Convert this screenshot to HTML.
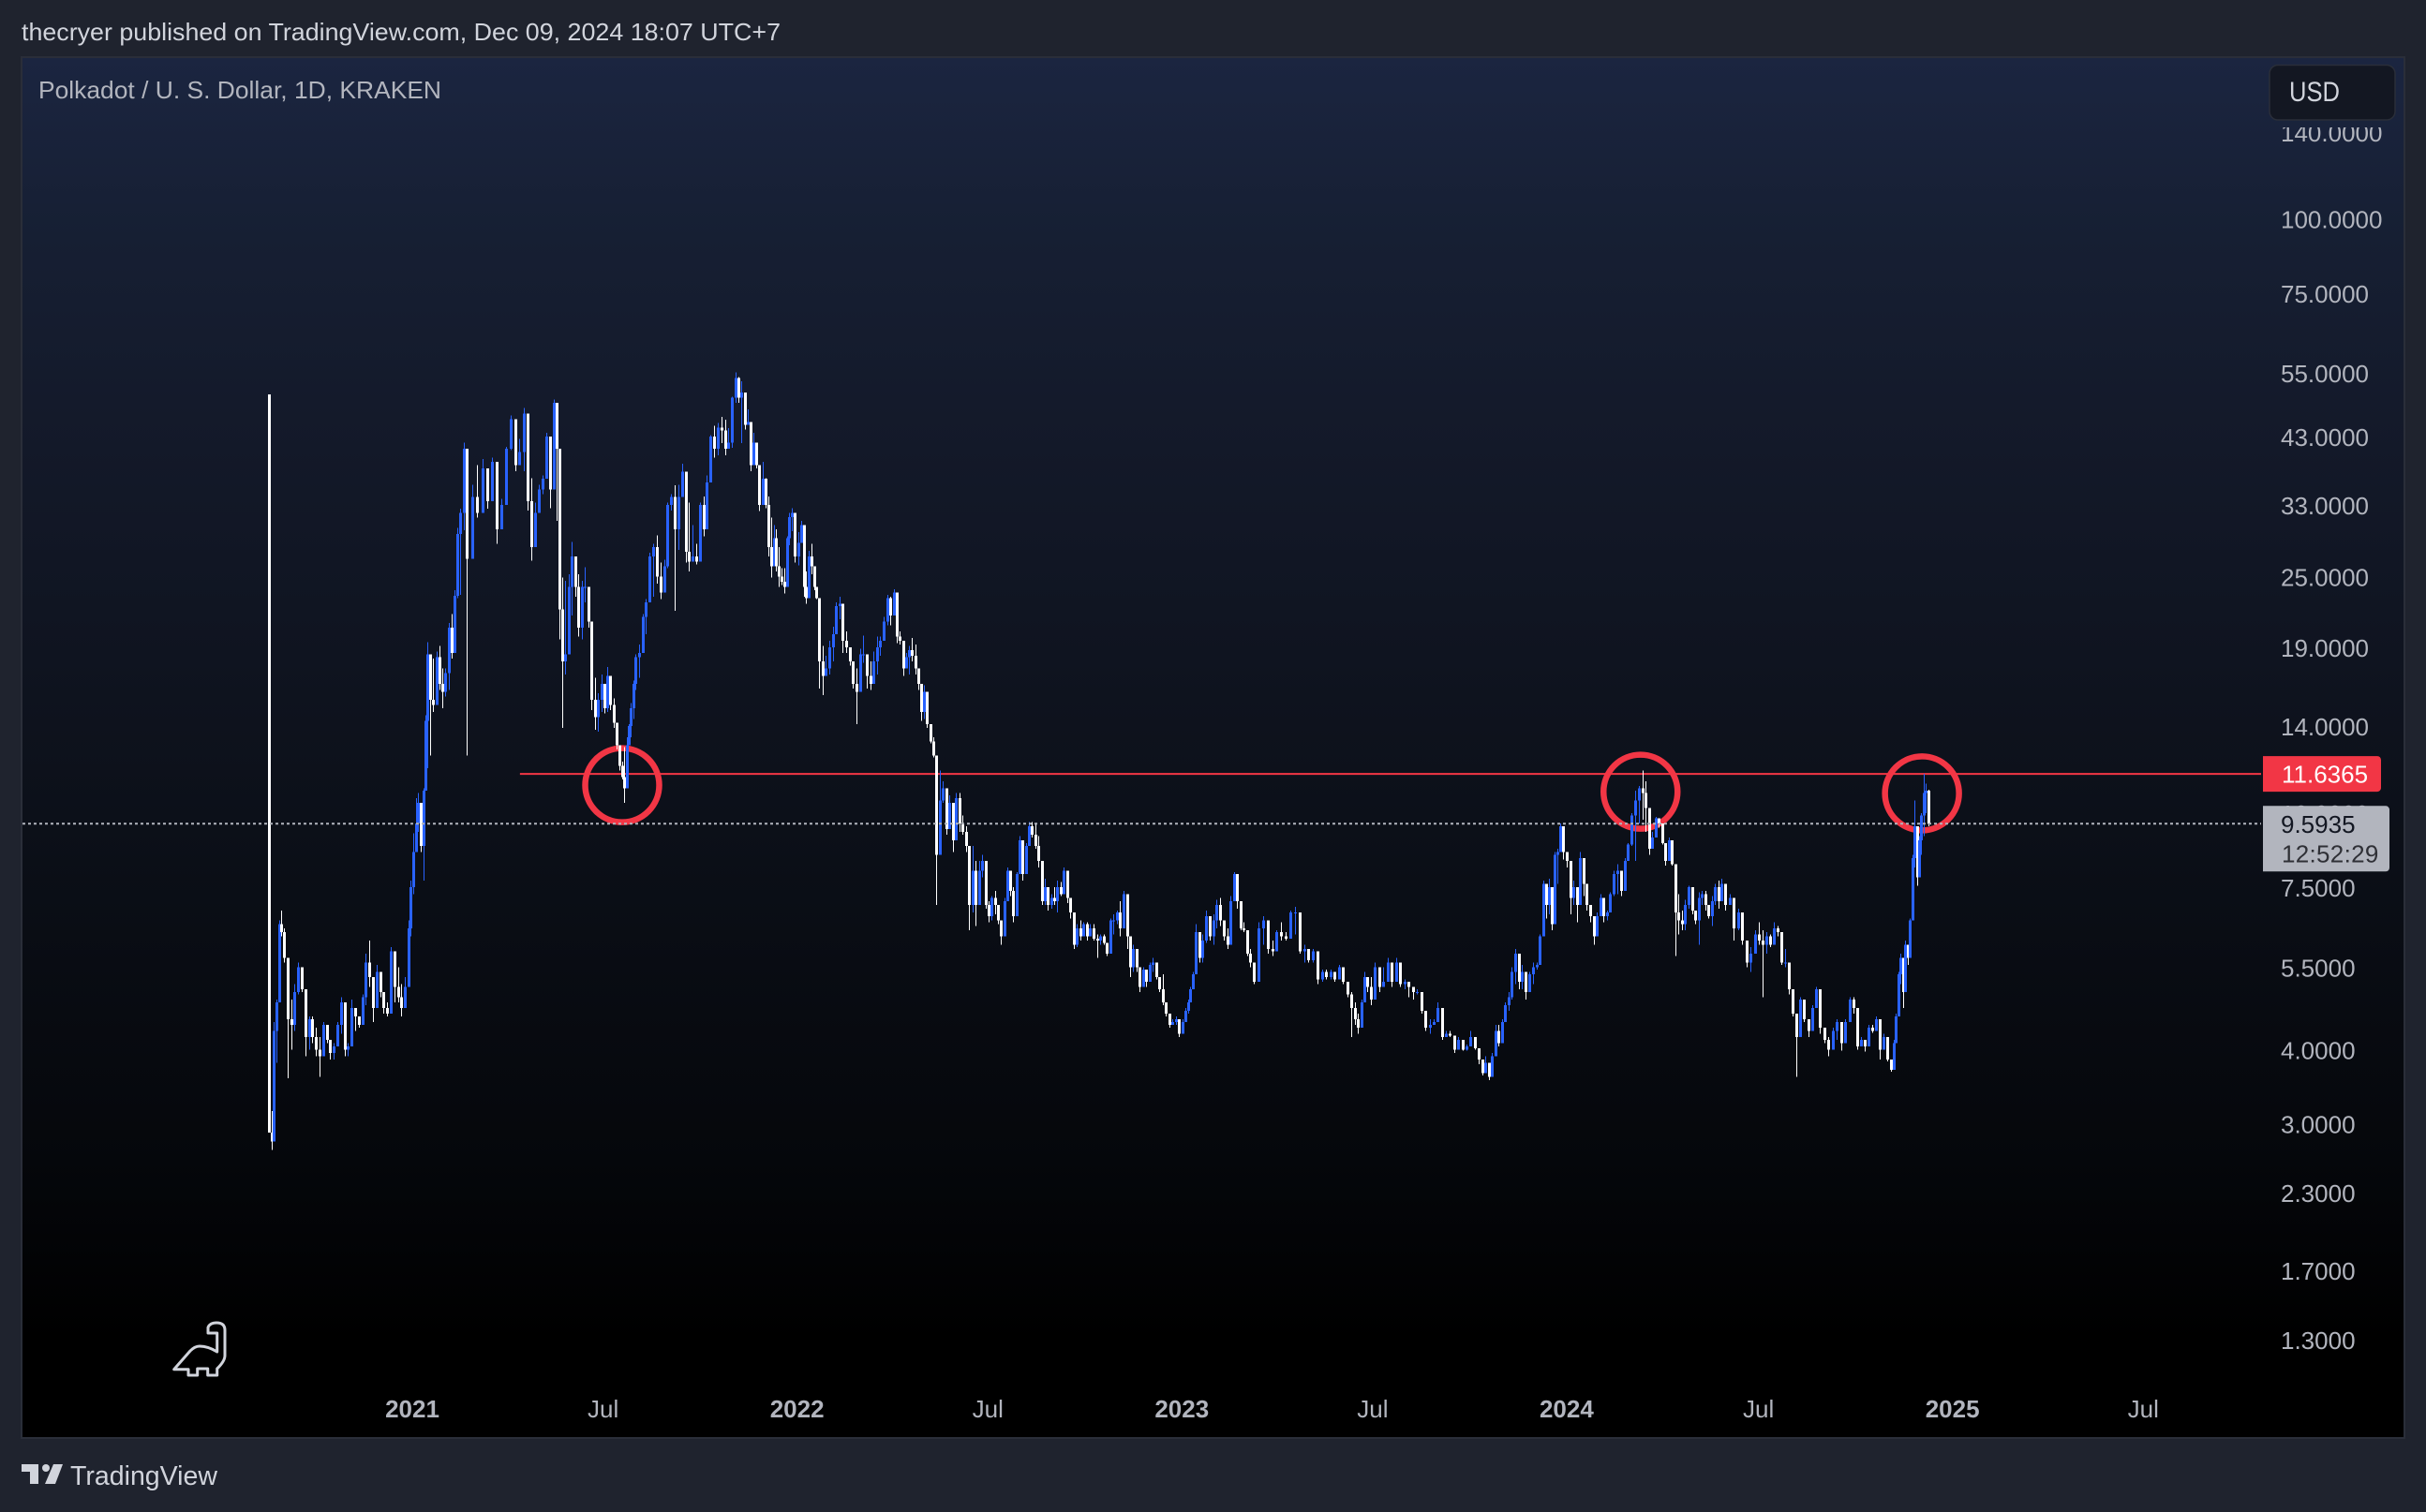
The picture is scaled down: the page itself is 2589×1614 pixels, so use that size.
<!DOCTYPE html>
<html lang="en">
<head>
<meta charset="utf-8">
<title>Polkadot / U. S. Dollar, 1D, KRAKEN</title>
<style>
html,body{margin:0;padding:0;background:#1e222d;width:2589px;height:1614px;overflow:hidden}
svg{display:block}
text{font-family:"Liberation Sans","DejaVu Sans",sans-serif}
</style>
</head>
<body>
<svg id="chart" xmlns="http://www.w3.org/2000/svg" width="2589" height="1614" viewBox="0 0 2589 1614">
  <defs>
    <linearGradient id="paneGradient" x1="0" y1="0" x2="0" y2="1">
      <stop offset="0" stop-color="#1b2540"/>
      <stop offset="0.13" stop-color="#161f33"/>
      <stop offset="0.25" stop-color="#141a2b"/>
      <stop offset="0.55" stop-color="#0c1019"/>
      <stop offset="0.8" stop-color="#05070b"/>
      <stop offset="0.93" stop-color="#000000"/>
      <stop offset="1" stop-color="#000000"/>
    </linearGradient>
    <clipPath id="axisClip"><rect x="2420" y="136" width="146" height="1398"/></clipPath>
  </defs>
  <rect x="0" y="0" width="2589" height="1614" fill="#1f232e"/>
  <text x="23" y="43" font-size="26" fill="#d1d4dc" textLength="810" lengthAdjust="spacingAndGlyphs">thecryer published on TradingView.com, Dec 09, 2024 18:07 UTC+7</text>
  <rect x="23" y="61" width="2543" height="1474" fill="url(#paneGradient)" stroke="#2a2e39" stroke-width="2"/>
  <text x="41" y="105" font-size="26" fill="#b2b5be" textLength="430" lengthAdjust="spacingAndGlyphs">Polkadot / U. S. Dollar, 1D, KRAKEN</text>

  <g id="yAxis" clip-path="url(#axisClip)"></g>
  <g id="xAxis"></g>
  <g id="drawings"></g>
  <g id="candles" shape-rendering="crispEdges"></g>
  <g id="overlay"></g>

  <g>
    <rect x="2422" y="69.5" width="134" height="58.5" rx="9" fill="#131722" stroke="#2a2e39" stroke-width="1.5"/>
    <text x="2443" y="108" font-size="30" fill="#d1d4dc" textLength="54" lengthAdjust="spacingAndGlyphs">USD</text>
  </g>

  <path d="M185.7 1461.7 L203 1442 Q208 1437 213 1437 Q222 1437 231.7 1443 L231.7 1423 L222 1423 L222 1417 Q224 1412 231 1412 Q240 1412 240 1420 L240 1447 Q240 1453 231.7 1461 L231.7 1468 L221.7 1468 L221.7 1461 L210.7 1461 L210.7 1468 L201 1468 L201 1461.7 Z" fill="none" stroke="#d1d4dc" stroke-width="3" stroke-linejoin="round"/>

  <g>
    <path d="M23 1563 H41 V1584 H32 V1571 H23 Z" fill="#d1d4dc"/>
    <circle cx="49" cy="1567" r="4" fill="#d1d4dc"/>
    <path d="M57 1563 H67 L59 1584 H48 Z" fill="#d1d4dc"/>
    <text x="75" y="1585" font-size="29" fill="#d1d4dc" textLength="157" lengthAdjust="spacingAndGlyphs">TradingView</text>
  </g>
</svg>
<script>
// ---- chart data (prices in USD, rows are [high, low, close]; open = previous close) ----
const firstOpen = 50.6;
const priceTicks = [140,100,75,55,43,33,25,19,14,10,7.5,5.5,4,3,2.3,1.7,1.3];
const timeTickDates = ['2021-01-01','2021-07-01','2022-01-01','2022-07-01','2023-01-01','2023-07-01','2024-01-01','2024-07-01','2025-01-01','2025-07-01'];
const timeTickLabels = ['2021','Jul','2022','Jul','2023','Jul','2024','Jul','2025','Jul'];
const resistancePrice = 11.6365;
const resistanceStart = '2021-04-14';
const lastPrice = 9.5935;
const countdown = '12:52:29';
const circleDates = ['2021-07-20','2024-03-12','2024-12-04'];
const circlePrices = [11.14,10.86,10.79];

// row numbers and days since 2021-01-01 read at recognisable turning points; bars between them are evenly spaced
const anchorRows = [0,6,41,42,47,49,62,65,70,74,82,85,96,97,104,110,138,149,159,160,168,190,204,219,220,230,244,262,279,280,285,296,302,311,316,324,330,331,342,356,359,367,375,381,382,383,397,405,415,429,438,439,448,453,462,472,488];
const anchorDays = [-135.1,-120.9,-2.7,-0.9,11.6,15.1,52.4,67.6,89.8,106.7,135.1,143.1,176.9,180.4,200,212.4,307.6,338.7,363.6,367.1,386.7,457.8,497.8,544.9,547.6,576.9,618.7,675.6,728,731.6,744,780.4,799.1,838.2,859.6,891.6,910.2,913.8,958.2,1012.4,1022.2,1047.1,1073.8,1089.8,1092.4,1096,1140.4,1168,1199.1,1242.7,1278.2,1281.8,1313.8,1332.4,1368,1403.6,1439.1];

const bars2020H2 = [[50.6,2.91,2.9],[3.15,2.71,2.8],[4.45,2.85,4.3],[4.85,3.8,4.8],[6.6,5.35,6.5],[6.85,6.2,6.3],[6.4,5.6,5.7],[5.3,3.58,4.5],[4.85,4.0,4.4],[5.15,4.3,5.0],[5.6,4.95,5.5],[5.45,5.0,5.05],[4.85,3.9,4.2],[4.55,4.0,4.5],[4.55,4.1,4.2],[4.35,3.9,4.0],[4.2,3.6,3.9],[4.45,4.05,4.4],[4.4,4.1,4.15],[4.1,3.85,3.95],[4.1,3.85,4.05],[4.45,4.15,4.4],[4.9,4.25,4.8],[4.25,3.9,4.0],[4.1,3.9,4.05],[4.85,4.1,4.7],[4.6,4.3,4.55],[4.55,4.35,4.4],[4.95,4.45,4.9],[5.8,4.75,5.6],[6.1,5.1,5.3],[5.2,4.45,4.7],[5.55,4.85,5.4],[5.2,4.9,5.0],[4.95,4.6,4.7],[4.8,4.55,4.6],[5.95,4.75,5.85],[5.75,4.8,5.1],[5.5,4.8,4.9],[5.15,4.55,4.7],[5.3,4.9,5.1],[6.6,5.15,6.4]];
const bars2021H1 = [[7.7,6.2,7.5],[9.25,7.3,8.6],[10.6,9.0,9.6],[10.8,9.3,10.4],[10.0,8.6,8.8],[11.0,7.7,10.9],[14.6,11.0,14.3],[19.4,11.9,18.5],[18.5,12.5,15.5],[18.2,14.8,15.2],[18.7,16.9,18.3],[19.1,16.1,16.5],[17.5,15.0,16.0],[17.5,15.7,17.2],[20.9,16.1,20.5],[21.6,18.2,18.6],[23.7,19.3,23.2],[30.2,23.0,29.5],[32.5,23.3,32.0],[42.0,29.9,41.0],[39.7,12.5,26.8],[35.7,28.1,34.0],[38.5,31.4,32.0],[39.4,33.3,38.0],[38,32.5,33.5],[39.6,34.6,39.0],[36.2,28.4,30],[33.8,31.2,33],[41.3,33.4,41],[46.7,40.8,46],[46,37.6,38.5],[42.6,39.4,40.5],[48,37.6,47],[39,32.3,33.5],[36.6,26.6,28],[33.3,28.1,32],[35.7,32.6,35],[37,34.4,36.5],[43.6,38,43],[41.9,32.6,35],[49.6,39.8,49],[42.7,31,41],[31.3,19.6,22],[24.9,13.9,18],[24.6,17.1,18.5],[25.2,18.6,24],[28.6,21.5,27],[26.4,23.1,24],[25.2,19.8,20.5],[24.6,19.6,24],[25.9,22.6,24],[23.9,20.5,21],[20.7,14.9,15.5],[16.9,13.8,14.5],[15.9,13.7,15.5]];
const bars2021H2 = [[17.1,14.8,16.5],[16.2,14.7,15],[17.6,14.8,17],[15.9,14.9,15.2],[15.6,13.9,14.2],[14.1,12.8,13],[12.9,11.8,12],[12.2,11.4,11.5],[12.9,10.4,11],[13.4,11.9,13],[14.1,13.1,14],[15.3,13.4,15],[16.7,14.4,16.5],[18.5,16.1,18.3],[19.2,16.9,18.6],[21.6,18.7,21.4],[22.9,20,22.6],[27.4,22.6,27],[28.4,23.1,28],[29.3,24.3,25],[26.4,22.9,23.5],[26.7,24.3,26],[33.3,25.8,33],[34.4,32.3,34],[35.6,21.9,30],[35.7,27.7,34],[38.7,34.1,37.5],[35,26.4,27.5],[33.3,25.5,26.5],[30.5,26.7,27],[28.4,26.2,26.5],[33.3,30.2,33],[34.1,29.2,30],[37,32.3,36],[43.2,37.6,43],[44.8,39.6,41],[45.3,40,44.5],[46.4,41.9,44],[45.9,40,41],[44.4,41.2,42],[50.2,41.2,50],[55.1,49,54],[54.1,49,50],[53.3,41.9,51],[47.8,44.2,45],[47.8,45,45.5],[42.9,37.6,38.5],[43.6,38.9,42],[40.8,38,38.5],[38.4,32.2,33],[39,35.3,36.5],[36.6,32.6,33],[34.1,27,28],[31.4,24.9,26],[30.5,28.1,29],[30,25.5,26],[28,24,25],[25.8,24.2,24.5],[25.8,23.4,24],[29.2,25.8,29],[32,28.2,31.5],[32.6,29.8,32],[28.4,26.4,27]];
const bars2022H1 = [[29.7,26.1,28.5],[31,28.6,30.5],[27.1,23.1,24],[25.5,22.5,23],[27.6,25.5,27],[28.4,25.2,26],[25.5,23.7,24],[23.4,22.9,23],[22.9,16.2,18],[19.1,15.8,17],[18.4,17.2,17.5],[19.5,17.1,19],[20.6,18,20],[22.6,20.2,22.3],[23.1,21.2,22.5],[22.5,18.6,19.5],[20.2,18.6,19],[18.6,17.7,18],[17.5,16.2,16.5],[17.5,14.1,16],[18.9,16.7,18.5],[19.9,17.9,18.5],[17.8,16.2,17],[18,16.1,16.5],[18.7,17.5,18],[19.8,17.1,19],[19.8,18.4,19.5],[21.4,19.8,21],[23.3,20.7,23],[23.1,20.7,21.5],[23.8,21.8,23.5],[21.8,19.3,19.8],[20.2,19.2,19.5],[19.1,17,17.5],[18.6,17.5,18.3],[19.1,17.1,18.8],[19.7,18,18.4],[19.2,17.1,17.5],[17.4,16.1,16.5],[16.5,14.3,14.8],[16.4,14.4,16],[14.6,13.9,14.1],[13.9,13.1,13.2],[13.4,12.4,12.5],[11.9,7,8.5],[11.8,9.8,10.5],[11.3,10.4,11],[10.4,9.2,9.4],[10.7,9.6,10.4],[10.4,8.6,9],[10.8,9.6,10.6],[10.8,9.3,9.6],[9.9,9.2,9.3],[9.5,8.6,8.8],[8.5,6.35,7],[8.8,6.8,8],[8.3,6.45,7],[8.3,7.2,8],[8.5,7.8,8.3],[7.7,6.9,7]];
const bars2022H2 = [[7.1,6.55,6.7],[7.25,6.6,7.2],[7.4,6.75,7],[6.9,6.5,6.6],[6.55,6,6.2],[7.2,6.6,7.1],[8.1,7.25,8],[7.6,7.25,7.4],[7.5,6.55,6.7],[7.95,7.5,7.9],[9.15,8.1,9],[8.5,7.7,7.9],[8.9,8.4,8.8],[9.65,8.9,9.5],[9.65,9.1,9.2],[9.6,8.7,8.8],[9.15,8.1,8.3],[7.5,7,7.1],[7.75,7,7.5],[7.4,6.85,7],[7.3,6.9,7.2],[7.5,7,7.1],[7.7,6.8,7.5],[7.65,7.25,7.3],[8.1,7.5,8],[8,7.05,7.2],[7.15,6.65,6.8],[6.4,5.9,6],[6.5,5.95,6.4],[6.6,6.1,6.2],[6.55,6.2,6.5],[6.55,6.1,6.2],[6.5,6.25,6.4],[6.5,6.1,6.15],[6.25,5.7,6.1],[6.25,6,6.2],[6.25,6,6.05],[5.95,5.75,5.8],[6.65,5.9,6.6],[6.75,6.25,6.6],[6.85,6.5,6.8],[7.1,6.2,6.4],[7.4,6.65,7.3],[7.2,5.9,6.2],[6.2,5.3,5.5],[6,5.4,5.9],[5.8,5.4,5.5],[5.35,5,5.1],[5.5,5.3,5.45],[5.35,5.1,5.2],[5.6,5.3,5.55],[5.7,5.4,5.6],[5.45,5.25,5.3],[5.3,5,5.05],[5.35,4.75,4.8],[4.7,4.55,4.6],[4.6,4.35,4.4],[4.5,4.4,4.45],[4.55,4.4,4.5],[4.35,4.2,4.25]];
const bars2023H1 = [[4.5,4.35,4.45],[4.7,4.55,4.65],[4.85,4.6,4.8],[5.1,4.85,5.05],[5.4,5.05,5.35],[6.5,5.4,6.3],[6.2,5.6,5.7],[6.25,5.6,6.1],[6.85,6.05,6.7],[6.6,6.1,6.2],[6.75,6,6.6],[7.15,6.4,7],[7.2,6.45,6.6],[6.3,6.1,6.2],[6.4,5.9,6],[7.25,6.3,7.1],[7.95,7.25,7.9],[7.4,6.9,7.1],[6.75,6.35,6.4],[6.55,6.3,6.35],[6,5.75,5.8],[5.9,5.5,5.6],[5.6,5.15,5.2],[6.55,5.8,6.4],[6.7,6,6.6],[6.5,5.8,5.9],[6.1,5.75,5.85],[6.35,6.1,6.3],[6.55,6.1,6.2],[6.3,6.1,6.15],[6.85,6.45,6.8],[6.95,6.25,6.8],[6,5.8,5.85],[6,5.6,5.9],[5.8,5.6,5.65],[5.9,5.6,5.85],[5.5,5.15,5.25],[5.45,5.2,5.4],[5.45,5.25,5.3],[5.45,5.25,5.4],[5.4,5.2,5.25],[5.55,5.35,5.5],[5.35,5.15,5.2],[5.2,4.9,4.95],[5,4.2,4.7],[4.8,4.4,4.5],[4.6,4.25,4.35],[4.85,4.35,4.8],[5.4,4.85,5.3],[5.2,5,5.1],[5.3,4.75,4.85]];
const bars2023H2 = [[5.6,5.2,5.5],[5.35,5,5.1],[5.5,5.1,5.2],[5.7,5.35,5.6],[5.4,5.1,5.2],[5.7,5.2,5.6],[5.3,5.1,5.15],[5.25,5.05,5.2],[5.2,4.9,5.1],[5.05,4.85,5],[5.05,4.95,5],[4.85,4.6,4.65],[4.5,4.3,4.35],[4.5,4.25,4.4],[4.5,4.4,4.45],[4.8,4.5,4.7],[4.25,4.15,4.2],[4.3,4.2,4.25],[4.3,4.2,4.22],[4.1,3.95,4],[4.2,4.05,4.15],[4.1,3.98,4],[4.08,3.98,4.05],[4.3,4.08,4.2],[4.1,4,4.02],[4.02,3.78,3.85],[3.78,3.62,3.65],[3.9,3.67,3.8],[3.67,3.55,3.6],[3.95,3.67,3.9],[4.4,3.95,4.3],[4.4,4.05,4.1],[4.5,4.25,4.45],[4.8,4.45,4.75],[5,4.65,4.9],[5.5,4.85,5.4],[5.9,5.15,5.8],[5.8,5.05,5.2],[5.55,5.05,5.4],[5.3,4.85,5],[5.4,5.1,5.35],[5.6,5.15,5.5],[5.6,5.45,5.55],[6.25,5.6,6.2],[7.7,6.3,7.6],[7.6,6.65,7],[7.75,6.75,7.5],[6.9,6.35,6.5],[8.6,7,8.5],[8.7,7.6,8.6],[9.6,8.6,9.5],[9,8.35,8.6]];
const bars2024H1 = [[8.6,8.1,8.3],[8,6.75,7.2],[7.7,7,7.5],[7.5,6.55,7],[8.6,7.25,8.4],[7.7,7.25,7.6],[7.25,6.85,7],[6.85,6.55,6.7],[6.55,6,6.2],[6.8,6.45,6.7],[7.3,6.7,7.2],[7,6.55,6.7],[6.85,6.6,6.8],[7.35,7,7.3],[8,7.25,7.9],[8.2,7.3,8],[7.7,7.25,7.4],[8.4,7.6,8.3],[8.9,8.3,8.85],[10,8.8,9.9],[10.9,8.3,10.5],[11.1,9.6,11],[11.8,9.75,10.8],[11.3,9.3,10.2],[9.3,8.5,8.7],[9.3,8.9,9.1],[9.85,9.3,9.8],[9.7,9.45,9.6],[9.5,8.85,8.9],[8.75,8.15,8.3],[9.1,8.45,9],[8.5,8.15,8.2],[8.15,5.75,6.8],[7.3,6.25,6.6],[6.85,6.35,6.5],[7.15,6.35,7],[7.55,6.9,7.5],[7,6.75,6.85],[6.85,6.5,6.6],[7.35,6,7.2],[7.4,7,7.3],[7.4,6.85,7],[6.85,6.65,6.7],[7.25,6.45,7.1],[7.6,7,7.5],[7.7,6.9,7.1],[7.75,7.25,7.6],[7.15,6.85,7],[7.3,7,7.2],[6.9,6.1,6.4],[6.9,6.35,6.8],[6.35,6,6.1],[5.8,5.5,5.6],[5.95,5.4,5.8],[6.35,5.8,6.25],[6.55,6,6.1]];
const bars2024H2 = [[6.35,4.9,6],[6.3,5.8,6.2],[6.25,5.95,6],[6.55,6,6.4],[6.45,6.2,6.3],[5.9,5.55,5.6],[5.9,5.5,5.6],[5.4,4.95,5.05],[4.95,4.55,4.6],[4.5,3.6,4.2],[4.9,4.45,4.85],[4.8,4.45,4.5],[4.45,4.2,4.3],[4.75,4.35,4.7],[5.1,4.8,5.05],[4.6,4.25,4.35],[4.3,4.1,4.15],[4.2,3.9,4],[4.35,4.1,4.3],[4.5,4.15,4.45],[4.3,3.98,4.1],[4.5,4.2,4.45],[4.9,4.55,4.85],[4.9,4.6,4.7],[4.25,4,4.05],[4.2,4.08,4.15],[4.1,3.97,4.05],[4.4,4.15,4.35],[4.4,4.27,4.3],[4.55,4.3,4.5],[4.25,3.85,4],[4.25,4,4.2],[3.95,3.82,3.85],[3.82,3.67,3.7],[4.15,3.85,4.1],[4.6,4.15,4.55],[5.4,4.6,5.35],[5.8,5.15,5.7],[5.2,4.7,5],[6.1,5.35,6],[6,5.55,5.7],[6.65,5.9,6.6],[8.5,6.65,8.4],[10.5,8.1,9.5],[8.5,7.55,7.8],[9.15,8.25,9],[10,8.5,9.9],[11.64,9.15,10.8],[11.2,10,10.9],[10.95,9.5,9.59]];

const allBars = [].concat(bars2020H2,bars2021H1,bars2021H2,bars2022H1,bars2022H2,bars2023H1,bars2023H2,bars2024H1,bars2024H2);

// ---- axis functions ----
const NS = 'http://www.w3.org/2000/svg';
const EPOCH = Date.UTC(2021,0,1);
function dayOf(iso){ return (Date.parse(iso+'T00:00:00Z')-EPOCH)/86400000; }
function xOf(day){ return 439 + 1.125*day; }
function yOf(price){ return 233.5 + 275.5*Math.log(100/price); }
function dayOfRow(row){
  let k = 0;
  while (k < anchorRows.length-2 && anchorRows[k+1] < row) k++;
  const t = (row-anchorRows[k])/(anchorRows[k+1]-anchorRows[k]);
  return anchorDays[k] + t*(anchorDays[k+1]-anchorDays[k]);
}
function make(tag, attrs, parent){
  const el = document.createElementNS(NS, tag);
  for (const k in attrs) el.setAttribute(k, attrs[k]);
  parent.appendChild(el);
  return el;
}

// ---- price axis ----
const yAxis = document.getElementById('yAxis');
priceTicks.forEach(function(p){
  const t = make('text',{x:2434,y:yOf(p)+10,'font-size':26,fill:'#b2b5be'},yAxis);
  
  
  t.textContent = p.toFixed(4);
});

// ---- time axis ----
const xAxis = document.getElementById('xAxis');
timeTickDates.forEach(function(d,i){
  const label = timeTickLabels[i];
  const isYear = label.length === 4;
  const t = make('text',{x:xOf(dayOf(d))+1,y:1513,'font-size':26,'text-anchor':'middle',fill:'#b2b5be','font-weight':isYear?'bold':'normal'},xAxis);
  
  
  t.textContent = label;
});

// ---- drawings (below candles) ----
const drawings = document.getElementById('drawings');
const resLine = make('line',{x1:xOf(dayOf(resistanceStart)),x2:2413,y1:yOf(resistancePrice),y2:yOf(resistancePrice),stroke:'#f23645','stroke-width':2},drawings);


circleDates.forEach(function(d,i){
  const c = make('circle',{cx:xOf(dayOf(d)),cy:yOf(circlePrices[i]),r:39.5,fill:'none',stroke:'#f23645','stroke-width':6.5},drawings);
  
  
});

// ---- candles ----
const candles = document.getElementById('candles');
const UP = '#2962ff', DOWN = '#ffffff';
let prevClose = firstOpen;
allBars.forEach(function(row,i){
  const high = row[0], low = row[1], close = row[2];
  const open = prevClose;
  const cx = Math.round(xOf(dayOfRow(i)));
  const col = close >= open ? UP : DOWN;
  const wick = make('rect',{x:cx,y:yOf(high),width:1,height:Math.max(1,yOf(low)-yOf(high)),fill:col},candles);
  
  
  const top = Math.min(yOf(open),yOf(close));
  const bot = Math.max(yOf(open),yOf(close));
  const body = make('rect',{x:cx-1,y:top,width:3,height:Math.max(1,bot-top),fill:col},candles);
  
  
  prevClose = close;
});

// ---- overlays (current price, tags) ----
const overlay = document.getElementById('overlay');
const lastLine = make('line',{x1:24,x2:2413,y1:yOf(lastPrice),y2:yOf(lastPrice),stroke:'#b2b5be','stroke-width':2,'stroke-dasharray':'3 3'},overlay);



const redY = yOf(resistancePrice);
const redTag = make('path',{d:'M2415 '+(redY-19)+' H2537 a4 4 0 0 1 4 4 V'+(redY+15)+' a4 4 0 0 1 -4 4 H2415 Z',fill:'#f23645'},overlay);


const redText = make('text',{x:2435,y:redY+9.5,'font-size':26,fill:'#ffffff'},overlay);


redText.textContent = resistancePrice.toFixed(4);

const lastY = yOf(lastPrice);
const greyTag = make('path',{d:'M2415 '+(lastY-19)+' H2546 a4 4 0 0 1 4 4 V'+(lastY+47)+' a4 4 0 0 1 -4 4 H2415 Z',fill:'#b2b5be'},overlay);


const lastText = make('text',{x:2434,y:lastY+9.5,'font-size':26,fill:'#131722'},overlay);


lastText.textContent = lastPrice.toFixed(4);
const cdText = make('text',{x:2435,y:lastY+41,'font-size':26,fill:'#2f3036','letter-spacing':'0.3'},overlay);


cdText.textContent = countdown;
</script>
</body>
</html>
